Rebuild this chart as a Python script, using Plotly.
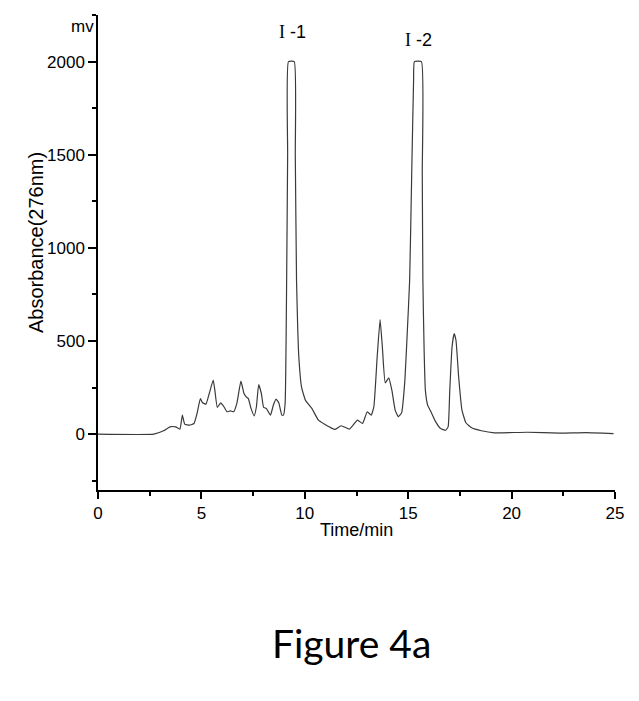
import plotly.graph_objects as go

# chromatogram (time in min, signal in mv)
time_min = [0, 2.7, 3.17, 3.48, 3.75, 3.96, 4.08, 4.19, 4.43, 4.64, 4.79, 4.95, 5.06, 5.22,
            5.38, 5.57, 5.65, 5.77, 5.93, 6.09, 6.24, 6.40, 6.56, 6.72, 6.91, 7.06, 7.19,
            7.27, 7.40, 7.55, 7.66, 7.77, 7.90, 8.01, 8.14, 8.34, 8.48, 8.61, 8.74, 8.89,
            8.97, 9.05, 9.12, 9.17, 9.21, 9.49, 9.54, 9.60, 9.66, 9.71, 9.84, 10.03, 10.34,
            10.66, 10.94, 11.2, 11.45, 11.76, 12.16, 12.55, 12.79, 13.02, 13.21, 13.34,
            13.50, 13.64, 13.75, 13.89, 14.06, 14.21, 14.37, 14.52, 14.68, 14.84, 14.96,
            15.07, 15.17, 15.26, 15.30, 15.64, 15.68, 15.71, 15.77, 15.83, 15.94, 16.10,
            16.33, 16.57, 16.81, 16.93, 17.01, 17.12, 17.22, 17.31, 17.44, 17.60, 17.79,
            18.07, 18.54, 19.17, 20.75, 22.33, 23.6, 24.93]
signal_mv = [0, 0, 18, 39, 39, 27, 102, 54, 48, 57, 111, 191, 168, 161,
             218, 290, 236, 143, 168, 147, 120, 125, 120, 168, 284, 218, 197,
             191, 138, 98, 147, 266, 218, 143, 138, 102, 156, 188, 168, 102,
             102, 168, 800, 1500, 2000, 2000, 1500, 826, 560, 415, 254, 182, 138,
             75, 54, 38, 25, 45, 27, 75, 57, 120, 102, 147,
             415, 615, 468, 275, 302, 236, 129, 93, 114, 290, 558,
             826, 1400, 1900, 2000, 2000, 1400, 826, 450, 236, 156, 120,
             66, 30, 21, 39, 236, 468, 540, 504, 307, 129, 61,
             34, 18, 7, 10, 5, 8, 3]

peak_names = ["-1", "-2"]
peak_time = [9.4, 15.5]
peak_label_mv = [2160, 2115]

x_ticks = [0, 5, 10, 15, 20, 25]
y_ticks = [0, 500, 1000, 1500, 2000]

fig = go.Figure()
fig.add_trace(go.Scatter(
    x=time_min, y=signal_mv, mode="lines",
    line=dict(color="#3a3a3a", width=1.2, shape="spline", smoothing=0.4),
    showlegend=False, hoverinfo="skip",
))

axis_font = dict(family="Liberation Sans", size=17, color="black")

fig.update_xaxes(
    range=[0, 25], tickvals=x_ticks, showline=True, linecolor="black", linewidth=1.5,
    ticks="outside", ticklen=7, tickwidth=1.5, tickcolor="black",
    minor=dict(dtick=2.5, ticks="outside", ticklen=4, tickwidth=1.5, tickcolor="black"),
    showgrid=False, zeroline=False, tickfont=axis_font,
)
fig.update_yaxes(
    range=[-300, 2250], tickvals=y_ticks, showline=True, linecolor="black", linewidth=1.5,
    ticks="outside", ticklen=8, tickwidth=1.5, tickcolor="black",
    minor=dict(dtick=250, ticks="outside", ticklen=4, tickwidth=1.5, tickcolor="black"),
    showgrid=False, zeroline=False, tickfont=axis_font,
)

for name, t, v in zip(peak_names, peak_time, peak_label_mv):
    fig.add_annotation(
        x=t, y=v, xref="x", yref="y", showarrow=False,
        text="<span style='font-family:Liberation Serif'>I</span> " + name,
        font=dict(family="Liberation Sans", size=18, color="black"),
    )

fig.add_annotation(x=-0.057, y=1.0, xref="paper", yref="paper", showarrow=False,
                   text="mv", font=dict(family="Liberation Sans", size=17, color="black"))
fig.add_annotation(x=-0.145, y=0.52, xref="paper", yref="paper", showarrow=False,
                   text="Absorbance(276nm)", textangle=-90,
                   font=dict(family="Liberation Sans", size=20, color="black"))
fig.add_annotation(x=0.5, y=-0.109, xref="paper", yref="paper", showarrow=False,
                   text="Time/min", font=dict(family="Liberation Sans", size=18, color="black"))
fig.add_annotation(x=0.49, y=-0.375, xref="paper", yref="paper", showarrow=False,
                   text="Figure 4a", font=dict(family="Lato", size=39, color="black"))

# page body has an 8px margin, so the figure is a bit smaller than the window
fig.update_layout(
    width=623, height=685,
    margin=dict(l=90, r=12, t=7, b=203),
    paper_bgcolor="white", plot_bgcolor="white",
)

fig.write_html("out.html")
